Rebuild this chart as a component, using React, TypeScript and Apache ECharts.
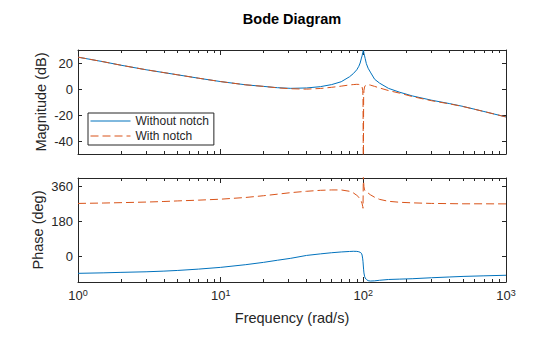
import React, { useEffect, useRef } from 'react';
import * as echarts from 'echarts';

// Frequency samples (rad/s)
const freq = [1, 1.5, 2, 3, 4, 5, 7, 10, 15, 20, 25, 31, 40, 50, 60, 70, 80, 85, 90, 93, 95, 97, 98, 99, 99.5, 100, 100.5, 101, 102, 103, 105, 108, 112, 120, 130, 150, 180, 220, 300, 400, 500, 700, 1000];

// Magnitude (dB)
const magWithout = [24.5, 21.0, 18.3, 14.8, 12.6, 10.9, 8.3, 5.7, 3.2, 2.0, 1.0, 0.5, 0.8, 1.8, 3.4, 5.6, 9.4, 11.8, 14.8, 17.5, 20.0, 23.8, 25.5, 27.8, 29.0, 29.8, 29.0, 27.5, 25.5, 23.5, 19.5, 16.0, 13.0, 7.5, 4.5, 0.5, -2.5, -5.3, -8.6, -11.2, -13.4, -17.3, -21.5];
const magWith = [24.5, 21.0, 18.3, 14.8, 12.6, 10.9, 8.3, 5.7, 3.2, 2.0, 0.9, 0.2, -0.1, 0.4, 1.3, 2.2, 3.1, 3.4, 3.6, 3.5, 3.2, 2.5, 1.5, -1.0, -6.0, -70, -6.0, -1.0, 1.5, 2.5, 3.2, 3.3, 3.0, 2.0, 0.8, -1.2, -3.2, -5.8, -9.0, -11.4, -13.5, -17.3, -21.5];

// Phase (deg)
const phaseWithout = [-90, -87.5, -85, -82, -78.5, -75, -68, -59, -45, -33, -22, -12, 3, 11, 17, 21, 23.5, 24.5, 24, 22, 19, 14, 5, -15, -30, -52, -72, -88, -105, -114, -122, -128, -130, -129, -126, -122, -120, -118, -113, -109, -106, -103, -100];
const phaseWith = [273, 275, 277, 280, 283, 286, 290, 295, 304, 313, 321, 329, 336, 341, 343, 343, 336, 328, 315, 305, 296, 282, 272, 258, 248, 420, 385, 360, 343, 337, 333, 327, 318, 305, 294, 284, 279, 276, 273, 272, 271, 271, 270.5];

// Tick values
const magTicks = [-40, -20, 0, 20];
const phaseTicks = [0, 180, 360];

const seriesNames = ['Without notch', 'With notch'];

const FONT = '"Liberation Sans", Arial, Helvetica, sans-serif';
const AX = '#262626';
const BLUE = '#0072BD';
const ORANGE = '#D95319';

function xAxis(gridIndex: number, position: 'top' | 'bottom', labels: boolean) {
  return {
    type: 'log',
    logBase: 10,
    min: 1,
    max: 1000,
    gridIndex,
    position,
    axisLine: { show: true, onZero: false, lineStyle: { color: AX, width: 1 } },
    axisTick: { show: true, inside: true, length: 5, lineStyle: { color: AX, width: 1 } },
    minorTick: { show: true, splitNumber: 9, length: 3, lineStyle: { color: AX, width: 1 } },
    splitLine: { show: false },
    minorSplitLine: { show: false },
    axisLabel: {
      show: labels,
      margin: 6,
      formatter: (v: number) => `{b|10}{s|${Math.round(Math.log10(v))}}`,
      rich: {
        b: { fontSize: 13, fontFamily: FONT, color: AX, lineHeight: 14, verticalAlign: 'bottom' },
        s: { fontSize: 9, fontFamily: FONT, color: AX, lineHeight: 14, verticalAlign: 'top' },
      },
    },
    name: labels ? 'Frequency (rad/s)' : '',
    nameLocation: 'middle',
    nameGap: 28,
    nameMoveOverlap: false,
    nameTextStyle: { fontSize: 14.5, fontFamily: FONT, color: AX },
  };
}

function yAxis(gridIndex: number, position: 'left' | 'right', min: number, max: number, ticks: number[], name: string, nameGap: number) {
  const labels = position === 'left';
  return {
    type: 'value',
    gridIndex,
    position,
    min,
    max,
    axisLine: { show: true, onZero: false, lineStyle: { color: AX, width: 1 } },
    axisTick: { show: true, inside: true, length: 4, customValues: ticks, lineStyle: { color: AX, width: 1 } },
    splitLine: { show: false },
    axisLabel: { show: labels, customValues: ticks, margin: 5, fontSize: 13, fontFamily: FONT, color: AX },
    name: labels ? name : '',
    nameLocation: 'middle',
    nameGap,
    nameMoveOverlap: false,
    nameRotate: 90,
    nameTextStyle: { fontSize: 14.5, fontFamily: FONT, color: AX },
  };
}

function pairs(vals: number[]) {
  return freq.map((f, i) => [f, vals[i]]);
}

export default function App() {
  const ref = useRef<HTMLDivElement>(null);
  useEffect(() => {
    if (!ref.current) return;
    const chart = echarts.init(ref.current, null, { renderer: 'svg' });
    const option: any = {
      animation: false,
      backgroundColor: '#fff',
      textStyle: { fontFamily: FONT },
      graphic: [
        {
          type: 'text',
          x: 292,
          y: 19,
          style: {
            text: 'Bode Diagram',
            font: `bold 14.5px ${FONT}`,
            fill: '#000',
            align: 'center',
            verticalAlign: 'middle',
          },
        },
      ],
      grid: [
        { left: 78, top: 50, width: 428, height: 104 },
        { left: 78, top: 178, width: 428, height: 104 },
      ],
      xAxis: [
        xAxis(0, 'bottom', false),
        xAxis(0, 'top', false),
        xAxis(1, 'bottom', true),
        xAxis(1, 'top', false),
      ],
      yAxis: [
        yAxis(0, 'left', -50, 30, magTicks, 'Magnitude (dB)', 30),
        yAxis(0, 'right', -50, 30, magTicks, '', 0),
        yAxis(1, 'left', -135, 405, phaseTicks, 'Phase (deg)', 33),
        yAxis(1, 'right', -135, 405, phaseTicks, '', 0),
      ],
      legend: {
        data: seriesNames,
        orient: 'vertical',
        left: 88,
        top: 113,
        itemWidth: 40,
        itemHeight: 14,
        itemGap: 1,
        padding: [1, 5, 2, 2],
        borderColor: AX,
        borderWidth: 1,
        borderRadius: 0,
        backgroundColor: '#fff',
        selectedMode: false,
        itemStyle: { color: 'rgba(0,0,0,0)', borderColor: 'rgba(0,0,0,0)', borderWidth: 0, opacity: 0 },
        lineStyle: { width: 1 },
        textStyle: { fontSize: 12, fontFamily: FONT, color: AX, lineHeight: 14 },
      },
      series: [
        {
          name: seriesNames[0], type: 'line', xAxisIndex: 0, yAxisIndex: 0, data: pairs(magWithout),
          symbol: 'none', clip: true, lineStyle: { color: BLUE, width: 1 }, itemStyle: { color: BLUE },
        },
        {
          name: seriesNames[1], type: 'line', xAxisIndex: 0, yAxisIndex: 0, data: pairs(magWith),
          symbol: 'none', clip: true, lineStyle: { color: ORANGE, width: 1, type: [8, 4] }, itemStyle: { color: ORANGE },
        },
        {
          name: seriesNames[0], type: 'line', xAxisIndex: 2, yAxisIndex: 2, data: pairs(phaseWithout),
          symbol: 'none', clip: true, lineStyle: { color: BLUE, width: 1 }, itemStyle: { color: BLUE },
        },
        {
          name: seriesNames[1], type: 'line', xAxisIndex: 2, yAxisIndex: 2, data: pairs(phaseWith),
          symbol: 'none', clip: true, lineStyle: { color: ORANGE, width: 1, type: [8, 4] }, itemStyle: { color: ORANGE },
        },
      ],
    };
    chart.setOption(option);
    return () => chart.dispose();
  }, []);
  return (
    <div
      ref={ref}
      style={{ position: 'fixed', left: 0, top: 0, width: 560, height: 337, background: '#fff' }}
    />
  );
}
